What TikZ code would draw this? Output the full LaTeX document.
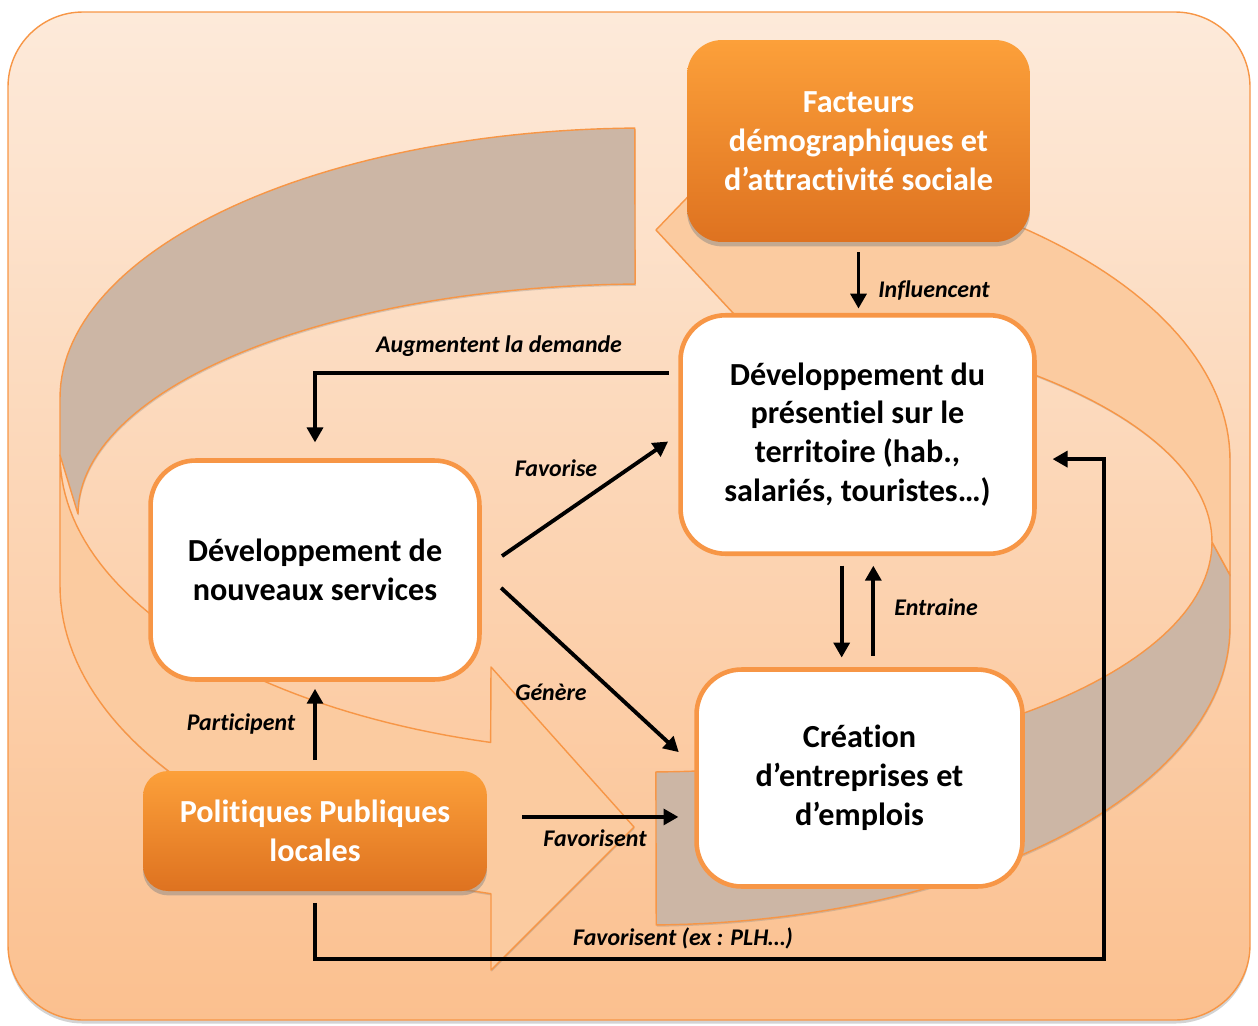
\documentclass[tikz,border=0pt]{standalone}
\usepackage{fontspec}
\setmainfont{Carlito}[Ligatures=NoCommon]
\usepackage{tikz}
\usetikzlibrary{arrows.meta,shadows}
\definecolor{ringorange}{RGB}{247,150,70}
\definecolor{bgtop}{RGB}{253,234,218}
\definecolor{bgbottom}{RGB}{251,192,143}
\definecolor{bandfill}{RGB}{251,203,160}
\definecolor{bandgrey}{RGB}{204,182,165}
\definecolor{factop}{RGB}{252,160,58}
\definecolor{facbottom}{RGB}{222,114,32}
\newcommand{\boxfont}{\fontsize{18.3}{22.1}\selectfont\bfseries}
\newcommand{\lblfont}{\fontsize{13.6}{16}\selectfont\bfseries\itshape}
\tikzstyle{whitebox} = [draw=ringorange, fill=white, line width=2.6pt, rectangle, rounded corners=0.9cm, align=center, font=\boxfont, inner sep=0pt]
\tikzstyle{orangebox} = [rectangle, rounded corners=0.6cm, top color=factop, bottom color=facbottom, text=white, align=center, font=\boxfont, inner sep=0pt, drop shadow={shadow xshift=0pt, shadow yshift=-2.5pt, opacity=0.45}]
\tikzstyle{conn} = [line width=2.2pt, -{Triangle[length=8.5pt,width=9pt]}]
\tikzstyle{lbl} = [font=\lblfont, inner sep=0pt]
\tikzstyle{band} = [draw=ringorange, line width=0.8pt, line join=round, drop shadow={shadow xshift=0.4pt, shadow yshift=-1pt, opacity=0.3}]

\begin{document}
\begin{tikzpicture}[x=0.02cm, y=-0.02cm]
\useasboundingbox (0,0) rectangle (1258,1025);
\draw[top color=bgtop, bottom color=bgbottom, draw=ringorange, line width=0.8pt, rounded corners=1.5cm, drop shadow={shadow xshift=0pt, shadow yshift=-2pt, opacity=0.35}] (8,12) rectangle (1250,1020);

% ring: first arrow (back, then front with head)
\filldraw[band, fill=bandgrey] plot[domain=91:180, samples=60] ({645+585*cos(\x)},{398-270*sin(\x)}) -- (60,455) -- (78,514) -- plot[domain=180:91, samples=60] ({645+567*cos(\x)},{514-230*sin(\x)}) -- cycle;
\filldraw[band, fill=bandfill] plot[domain=180:254.7, samples=50] ({645+585*cos(\x)},{455-298*sin(\x)}) -- (491,667) -- (634,827) -- (491,970) -- (491,894) -- plot[domain=254.7:180, samples=50] ({645+585*cos(\x)},{586-319*sin(\x)}) -- cycle;

% ring: second arrow (front, then back with head)
\filldraw[band, fill=bandgrey] plot[domain=271.1:360, samples=60] ({645+585*cos(\x)},{627-298*sin(\x)}) -- (1230,575) -- (1212,542) -- plot[domain=360:271.1, samples=60] ({645+567*cos(\x)},{542-230*sin(\x)}) -- cycle;
\filldraw[band, fill=bandfill] (800,80) -- (656,230) -- (800,385) -- (800,321) -- plot[domain=74.1:0, samples=50] ({645+567*cos(\x)},{542-230*sin(\x)}) -- (1230,575) -- (1230,460) -- plot[domain=0:74.6, samples=50] ({645+585*cos(\x)},{460-304*sin(\x)}) -- cycle;

\node[orangebox, minimum width=6.86cm, minimum height=4.04cm, rounded corners=0.7cm] (fact) at (858.5,141) {Facteurs\\démographiques et\\d’attractivité sociale};
\node[whitebox, minimum width=7.08cm, minimum height=4.77cm] (pres) at (857.5,434.5) {Développement du\\présentiel sur le\\territoire (hab.,\\salariés, touristes…)};
\node[whitebox, minimum width=6.58cm, minimum height=4.38cm] (serv) at (315,570) {Développement de\\nouveaux services};
\node[whitebox, minimum width=6.52cm, minimum height=4.34cm] (crea) at (859.5,778) {Création\\d’entreprises et\\d’emplois};
\node[orangebox, minimum width=6.88cm, minimum height=2.4cm, rounded corners=0.5cm] (pol) at (315,831) {Politiques Publiques\\locales};
\coordinate (plhturn) at (1104,959);

\draw[conn, shorten <=5.5pt, shorten >=2.5pt] (fact.south) -- (fact.south |- pres.north);
\draw[conn, shorten <=5.5pt, shorten >=9pt] (pres.161) -| (serv.north);
\draw[conn, shorten <=14pt, shorten >=7pt] (serv.east) -- (pres.west);
\draw[conn, shorten <=15pt, shorten >=12pt] (serv.east) -- (crea.176);
\draw[conn, shorten <=5.5pt, shorten >=5.5pt] ([xshift=-9pt]pres.south) -- ([xshift=-9pt]pres.south |- crea.north);
\draw[conn, shorten <=6.5pt, shorten >=5.5pt] ([xshift=9pt]pres.south |- crea.north) -- ([xshift=9pt]pres.south);
\draw[conn, shorten <=6pt, shorten >=4pt] (pol.north) -- (serv.south);
\draw[conn, shorten <=20pt, shorten >=9pt] ([yshift=8pt]pol.east) -- ([yshift=8pt]pol.east -| crea.west);
\draw[conn, shorten <=6.5pt, shorten >=9pt] (pol.south) |- (plhturn) |- ([yshift=-14pt]pres.east);

\node[lbl] (linfl) at (934,290) {Influencent};
\node[lbl] (laug) at (499,346) {Augmentent la demande};
\node[lbl] (lfav) at (556,468) {Favorise};
\node[lbl] (lgen) at (551,692) {Génère};
\node[lbl] (lent) at (936,607) {Entraine};
\node[lbl] (lpart) at (241,724) {Participent};
\node[lbl] (lfavs) at (595,838) {Favorisent};
\node[lbl] (lplh) at (683,938) {Favorisent (ex : PLH…)};
\end{tikzpicture}
\end{document}
